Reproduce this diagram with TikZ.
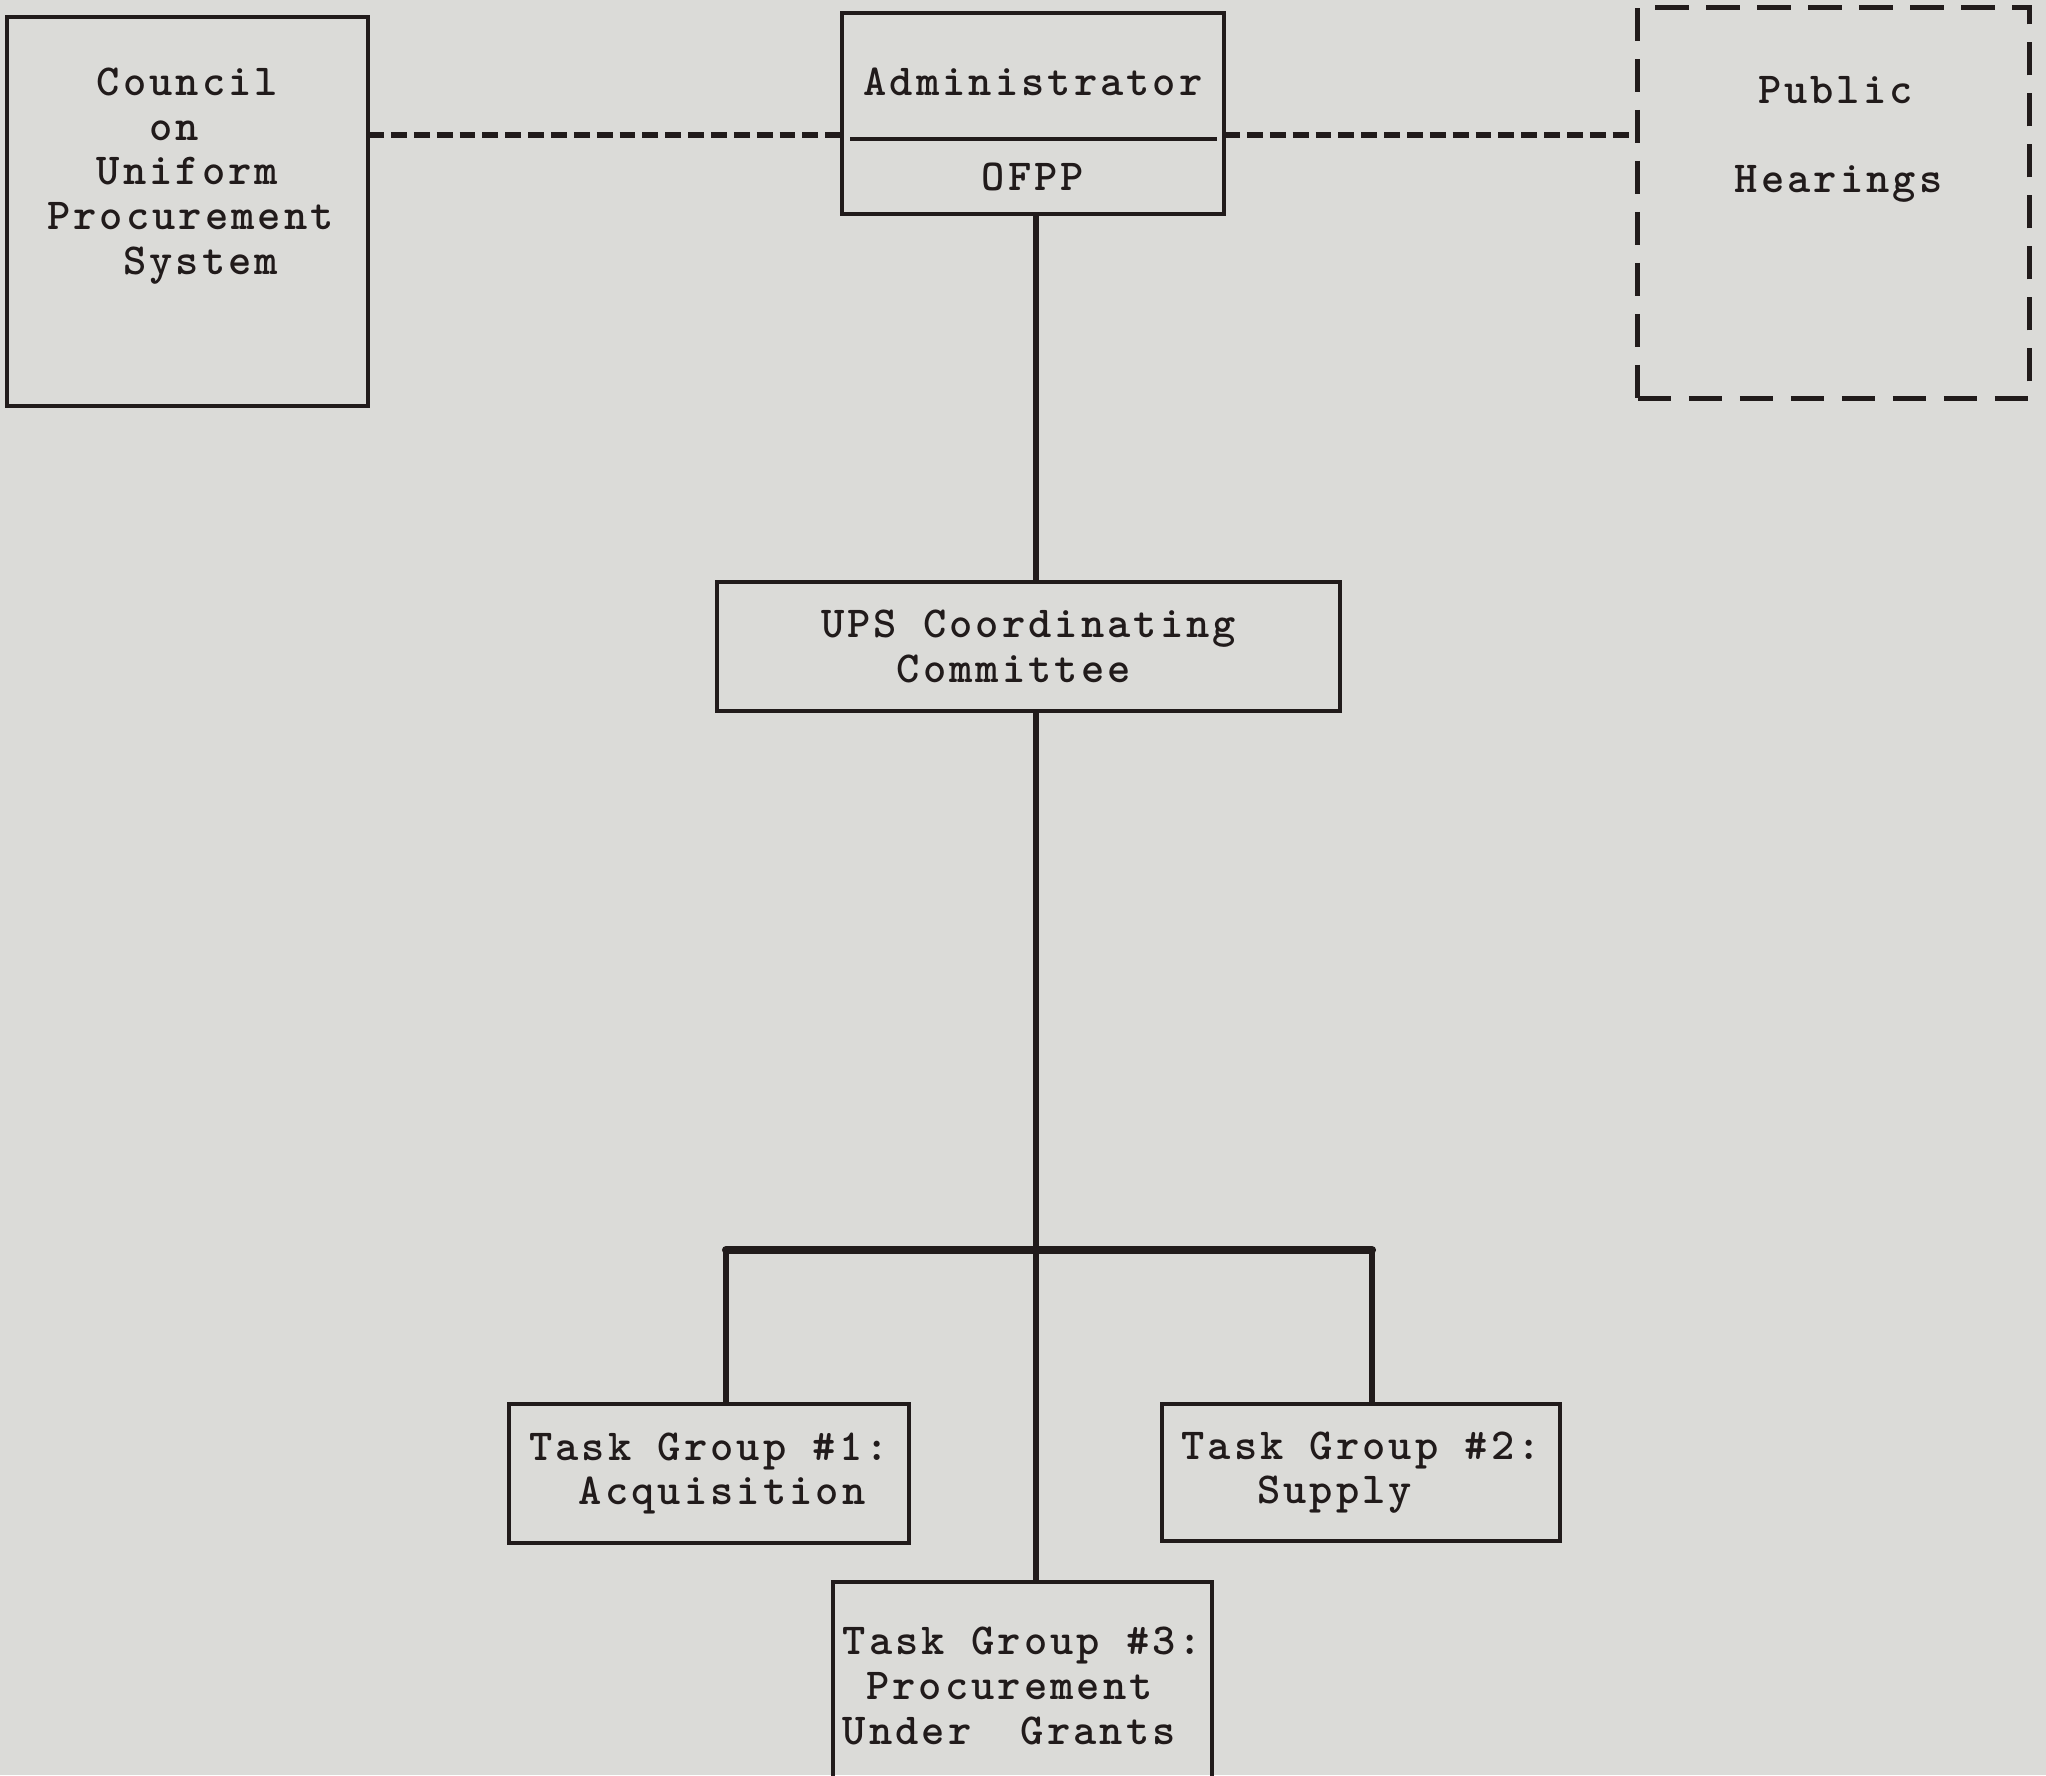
\documentclass[tikz,border=0pt]{standalone}
\usepackage{fontspec}
\newfontfamily\typefont{lmmonolt10-bold}[Extension=.otf, LetterSpace=6.9]
\usepackage{tikz}
\definecolor{ups_paper}{RGB}{219,219,216}
\definecolor{ups_ink}{RGB}{33,27,27}

\begin{document}
\begin{tikzpicture}[x=0.01cm, y=-0.01cm,
            font=\typefont\fontsize{12.6}{12.7}\selectfont,
            box/.style={draw=ups_ink, line width=1.3pt, inner sep=0pt, outer sep=0pt,
                        align=left, text=ups_ink},
            dbox/.style={box, line width=1.4pt, dash pattern=on 9.5pt off 5pt},
            lbl/.style={align=left, text=ups_ink, inner sep=0pt},
            link/.style={draw=ups_ink, line width=1.7pt},
            bar/.style={draw=ups_ink, line width=2.3pt, line cap=round},
            dlink/.style={draw=ups_ink, line width=1.7pt, dash pattern=on 4.5pt off 2pt}]
  \useasboundingbox (0,0) rectangle (2046,1775);
  \clip (0,0) rectangle (2046,1775);
  \fill[ups_paper] (0,0) rectangle (2046,1775);

  \node[box, minimum width=3.61cm, minimum height=3.89cm] (council) at (187.5,211.5) {};
  \node[lbl] (councillbl) at (190.5,176)
    {\hphantom{xx}Council\\\hphantom{xxxx}on\\\hphantom{xx}Uniform\\Procurement\\\hphantom{xxx}System};

  \node[box, minimum width=3.82cm, minimum height=2.01cm] (admin) at (1033,113.5) {};
  \node[lbl] (adminlbl) at (1033,82) {Administrator};
  \draw[ups_ink, line width=1.3pt] (850,139) -- (1217,139);
  \node[lbl] (ofpp) at (1033,177) {OFPP};

  \node[dbox, minimum width=3.91cm, minimum height=3.90cm] (hearings) at (1833.5,203) {};
  \node[lbl] (hearingslbl) at (1838.5,139.5) {\hphantom{x}Public\\[12.7pt]Hearings};

  \node[box, minimum width=6.23cm, minimum height=1.29cm] (ups) at (1028.5,646.5)
    {UPS Coordinating\\\hphantom{xxx}Committee};

  \node[box, minimum width=4.00cm, minimum height=1.39cm] (tg1) at (709,1473.5)
    {Task Group \#1:\\\hphantom{xx}Acquisition};
  \node[box, minimum width=3.98cm, minimum height=1.37cm] (tg2) at (1361,1472.5)
    {Task Group \#2:\\\hphantom{xxx}Supply};
  \node[box, minimum width=3.79cm, minimum height=2.08cm] (tg3) at (1022.5,1686)
    {Task Group \#3:\\\hphantom{x}Procurement\\Under\hphantom{xx}Grants};

  \coordinate (dash) at (0,135);
  \coordinate (join) at (1036,1250);
  \coordinate (barL) at (726,1250);
  \coordinate (barR) at (1372,1250);

  \draw[dlink] (council.east |- dash) -- (admin.west |- dash);
  \draw[dlink] (admin.east |- dash) -- (hearings.west |- dash);
  \draw[link] (admin.south -| join) -- (ups.north -| join);
  \draw[link] (ups.south -| join) -- (join);
  \draw[link] (barL) -- (tg1.north -| barL);
  \draw[link] (barR) -- (tg2.north -| barR);
  \draw[link] (join) -- (tg3.north -| join);
  \draw[bar] (barL) -- (barR);
\end{tikzpicture}
\end{document}
